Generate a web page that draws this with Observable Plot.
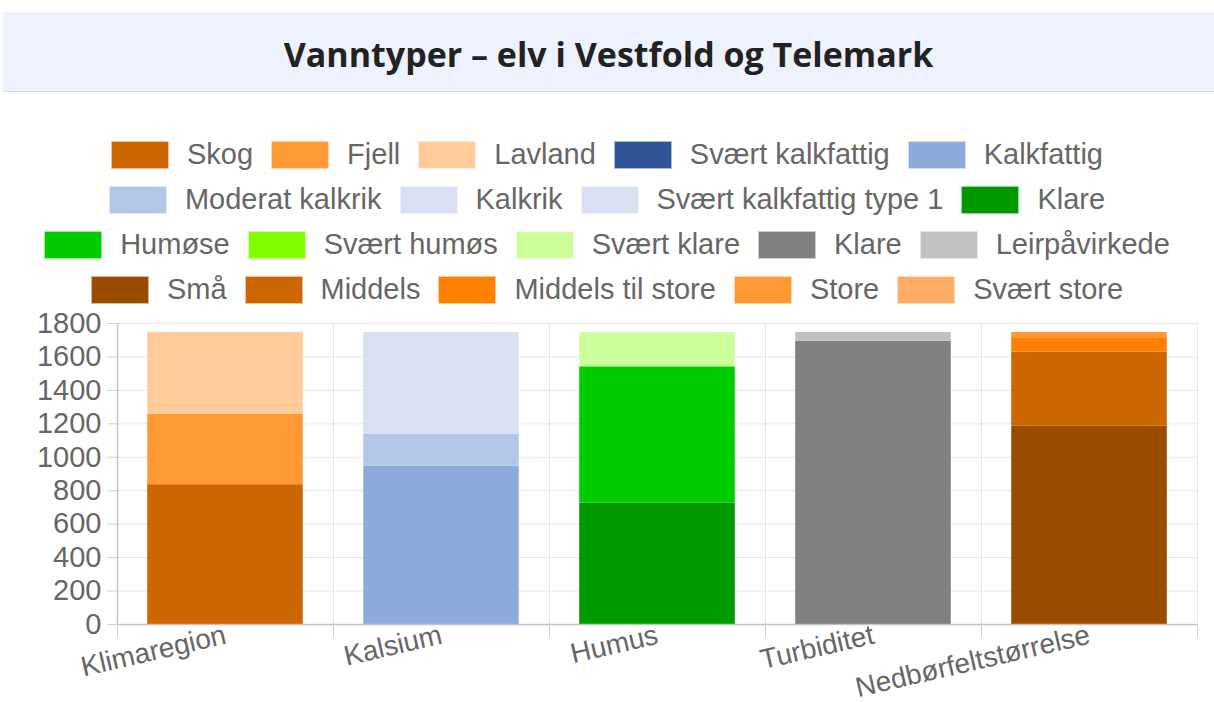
<!DOCTYPE html>
<html>
<head>
<meta charset="utf-8">
<script src="https://cdn.jsdelivr.net/npm/d3@7"></script>
<script src="https://cdn.jsdelivr.net/npm/@observablehq/plot@0.6"></script>
<style>
  html, body { margin: 0; padding: 0; background: #fff; width: 1214px; height: 702px; overflow: hidden; }
  #title {
    position: absolute; left: 3px; top: 12px; width: 1211px; height: 80px;
    background: #eef2fe; border-bottom: 1px solid #d3d7e2;
    display: flex; align-items: center; justify-content: center;
    font-family: "Open Sans", sans-serif; font-weight: 700; font-size: 34px; color: #222;
    padding-top: 4px; box-sizing: border-box;
  }
  #legend {
    position: absolute; left: 12px; top: 132px; width: 1190px;
    display: flex; flex-wrap: wrap; justify-content: center;
    font-family: "Liberation Sans", Arial, sans-serif; font-size: 29px; color: #666;
  }
  .item { display: flex; align-items: center; height: 45px; margin: 0 9px; }
  .sw { width: 56px; height: 26px; margin-right: 18px; border: 1px solid rgba(255,255,255,0.6); }
  #chart { position: absolute; left: 0; top: 300px; }
  #chart svg { overflow: visible; }
</style>
</head>
<body>
<div id="title">Vanntyper – elv i Vestfold og Telemark</div>
<div id="legend"></div>
<div id="chart"></div>
<script>
const categories = ["Klimaregion", "Kalsium", "Humus", "Turbiditet", "Nedbørfeltstørrelse"];
const seriesNames = ["Skog", "Fjell", "Lavland", "Svært kalkfattig", "Kalkfattig", "Moderat kalkrik", "Kalkrik", "Svært kalkfattig type 1", "Klare", "Humøse", "Svært humøs", "Svært klare", "Klare", "Leirpåvirkede", "Små", "Middels", "Middels til store", "Store", "Svært store"];
const seriesCategory = [0, 0, 0, 1, 1, 1, 1, 1, 2, 2, 2, 2, 3, 3, 4, 4, 4, 4, 4];
const seriesValues = [836, 421, 489, 0, 946, 190, 610, 0, 726, 815, 0, 205, 1693, 53, 1186, 443, 86, 31, 0];
const seriesColors = ["#cc6600", "#ff9933", "#ffcc99", "#2f5597", "#8eaadb", "#b4c7e7", "#dae0f2", "#dae0f2", "#009900", "#00cc00", "#80ff00", "#ccff99", "#808080", "#c0c0c0", "#994c00", "#cc6600", "#ff8000", "#ff9933", "#ffad66"];
const yTicks = [0, 200, 400, 600, 800, 1000, 1200, 1400, 1600, 1800];

// legend
const legend = document.getElementById("legend");
seriesNames.forEach((n, i) => {
  const it = document.createElement("div");
  it.className = "item";
  const sw = document.createElement("div");
  sw.className = "sw";
  sw.style.background = seriesColors[i];
  const t = document.createElement("span");
  t.textContent = n;
  it.appendChild(sw); it.appendChild(t);
  legend.appendChild(it);
});

// stacked data
const cum = new Array(categories.length).fill(0);
const rows = seriesNames.map((n, i) => {
  const c = seriesCategory[i];
  const y1 = cum[c];
  cum[c] += seriesValues[i];
  return {name: n, ci: c, y1, y2: cum[c], color: seriesColors[i]};
}).filter(d => d.y2 > d.y1);

const pad = 0.14;
const boundaries = d3.range(categories.length + 1);
const font = "Liberation Sans, Arial, sans-serif";

const chart = Plot.plot({
  width: 1214,
  height: 402,
  marginLeft: 117,
  marginRight: 17,
  marginTop: 23,
  marginBottom: 78,
  style: {fontFamily: font, background: "transparent", overflow: "visible"},
  x: {type: "linear", domain: [0, categories.length], axis: null},
  y: {domain: [0, 1800], axis: null},
  marks: [
    Plot.ruleY(yTicks, {stroke: "#e6e6e6"}),
    Plot.ruleX(boundaries, {stroke: "#e6e6e6"}),
    Plot.rect(rows, {x1: d => d.ci + pad, x2: d => d.ci + 1 - pad, y1: "y1", y2: "y2", fill: "color"}),
    Plot.ruleY([0], {stroke: "#c4c4c4", strokeWidth: 1.5}),
    Plot.ruleX([0], {stroke: "#c4c4c4", strokeWidth: 1.5}),
    Plot.axisX({ticks: boundaries, tickFormat: () => "", tickSize: 14, stroke: "#d0d0d0"}),
    Plot.axisY({ticks: yTicks, tickSize: 10, tickPadding: 6, fontSize: 29, stroke: "#d0d0d0", fill: "#666", tickFormat: d => String(d)}),
    Plot.text(categories, {x: (d, i) => i + 0.5, y: () => 0, text: d => d, rotate: -13, textAnchor: "end", dy: 10, fontSize: 28, fill: "#666"})
  ]
});
document.getElementById("chart").appendChild(chart);
</script>
</body>
</html>
